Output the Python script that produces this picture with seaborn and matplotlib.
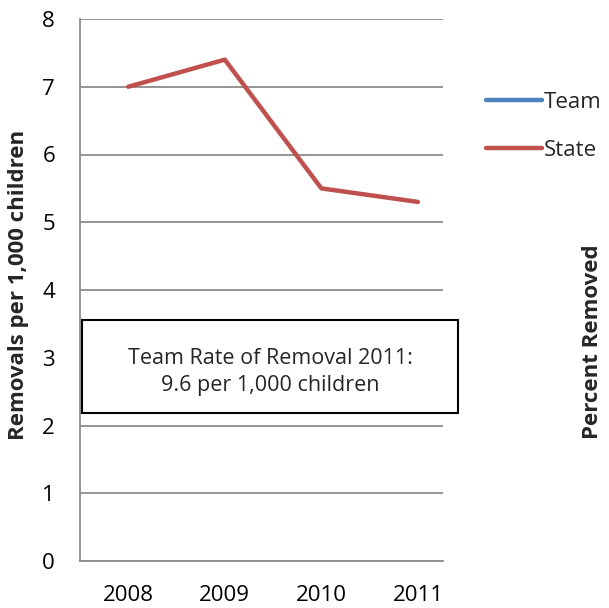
import matplotlib
matplotlib.use("Agg")
import matplotlib.pyplot as plt
import matplotlib.patches as mpatches
import seaborn as sns
import numpy as np
import pandas as pd

# data
years = ["2008", "2009", "2010", "2011"]
state = [7.0, 7.4, 5.5, 5.3]
team = [np.nan, np.nan, np.nan, np.nan]  # no team values plotted
y_ticks = [0, 1, 2, 3, 4, 5, 6, 7, 8]

sns.set_theme(style="white")
plt.rcParams["font.family"] = ["Open Sans", "DejaVu Sans"]

fig = plt.figure(figsize=(6.09, 6.08), dpi=100)
W, H = 609, 608
ax = fig.add_axes([80 / W, 1 - 561 / H, (443 - 80) / W, (561 - 19) / H])

df = pd.DataFrame({"year": years, "State": state})
pos = np.arange(len(years))

# Team series has no points, keep it only for the legend
ax.plot(pos, team, color="#4F81BD", lw=3.2, label="Team", solid_capstyle="round")
sns.lineplot(x=pos, y=df["State"], ax=ax, color="#C0504D", lw=3.2,
             label="State", solid_capstyle="round")

ax.set_xlim(-0.5, 3.26)
ax.set_ylim(0, 8)
ax.set_yticks(y_ticks)
ax.set_xticks(pos)
ax.set_xticklabels(years)
ax.tick_params(axis="both", labelsize=16, length=0, colors="black")
ax.tick_params(axis="y", pad=18)
ax.tick_params(axis="x", pad=17)
ax.grid(axis="y", color="#8c8c8c", lw=1.3)
ax.set_axisbelow(True)
for s in ["top", "right"]:
    ax.spines[s].set_visible(False)
for s in ["left", "bottom"]:
    ax.spines[s].set_color("#8c8c8c")
    ax.spines[s].set_linewidth(1.3)
ax.set_xlabel("")
ax.set_ylabel("")

fig.text(19 / W, 1 - 285 / H, "Removals per 1,000 children", rotation=90,
         ha="center", va="center", fontsize=16, fontweight="bold")
fig.text(592 / W, 1 - 342 / H, "Percent Removed", rotation=90,
         ha="center", va="center", fontsize=16, fontweight="bold")

leg = ax.legend(loc="upper left", bbox_to_anchor=(486 / W, 1 - 92 / H),
                bbox_transform=fig.transFigure, frameon=False, fontsize=16,
                handlelength=2.5, handletextpad=0.1, labelspacing=1.2,
                borderpad=0, borderaxespad=0)

box = mpatches.Rectangle((82 / W, 1 - 413 / H), 376 / W, 93 / H,
                         transform=fig.transFigure, fill=True, facecolor="white",
                         edgecolor="black", lw=1.5, zorder=5)
fig.patches.append(box)
fig.text(270 / W, 1 - 372 / H, "Team Rate of Removal 2011:\n9.6 per 1,000 children",
         ha="center", va="center", fontsize=15.5, color="#262626",
         linespacing=1.35, zorder=6)

fig.savefig("out.png", dpi=100)
